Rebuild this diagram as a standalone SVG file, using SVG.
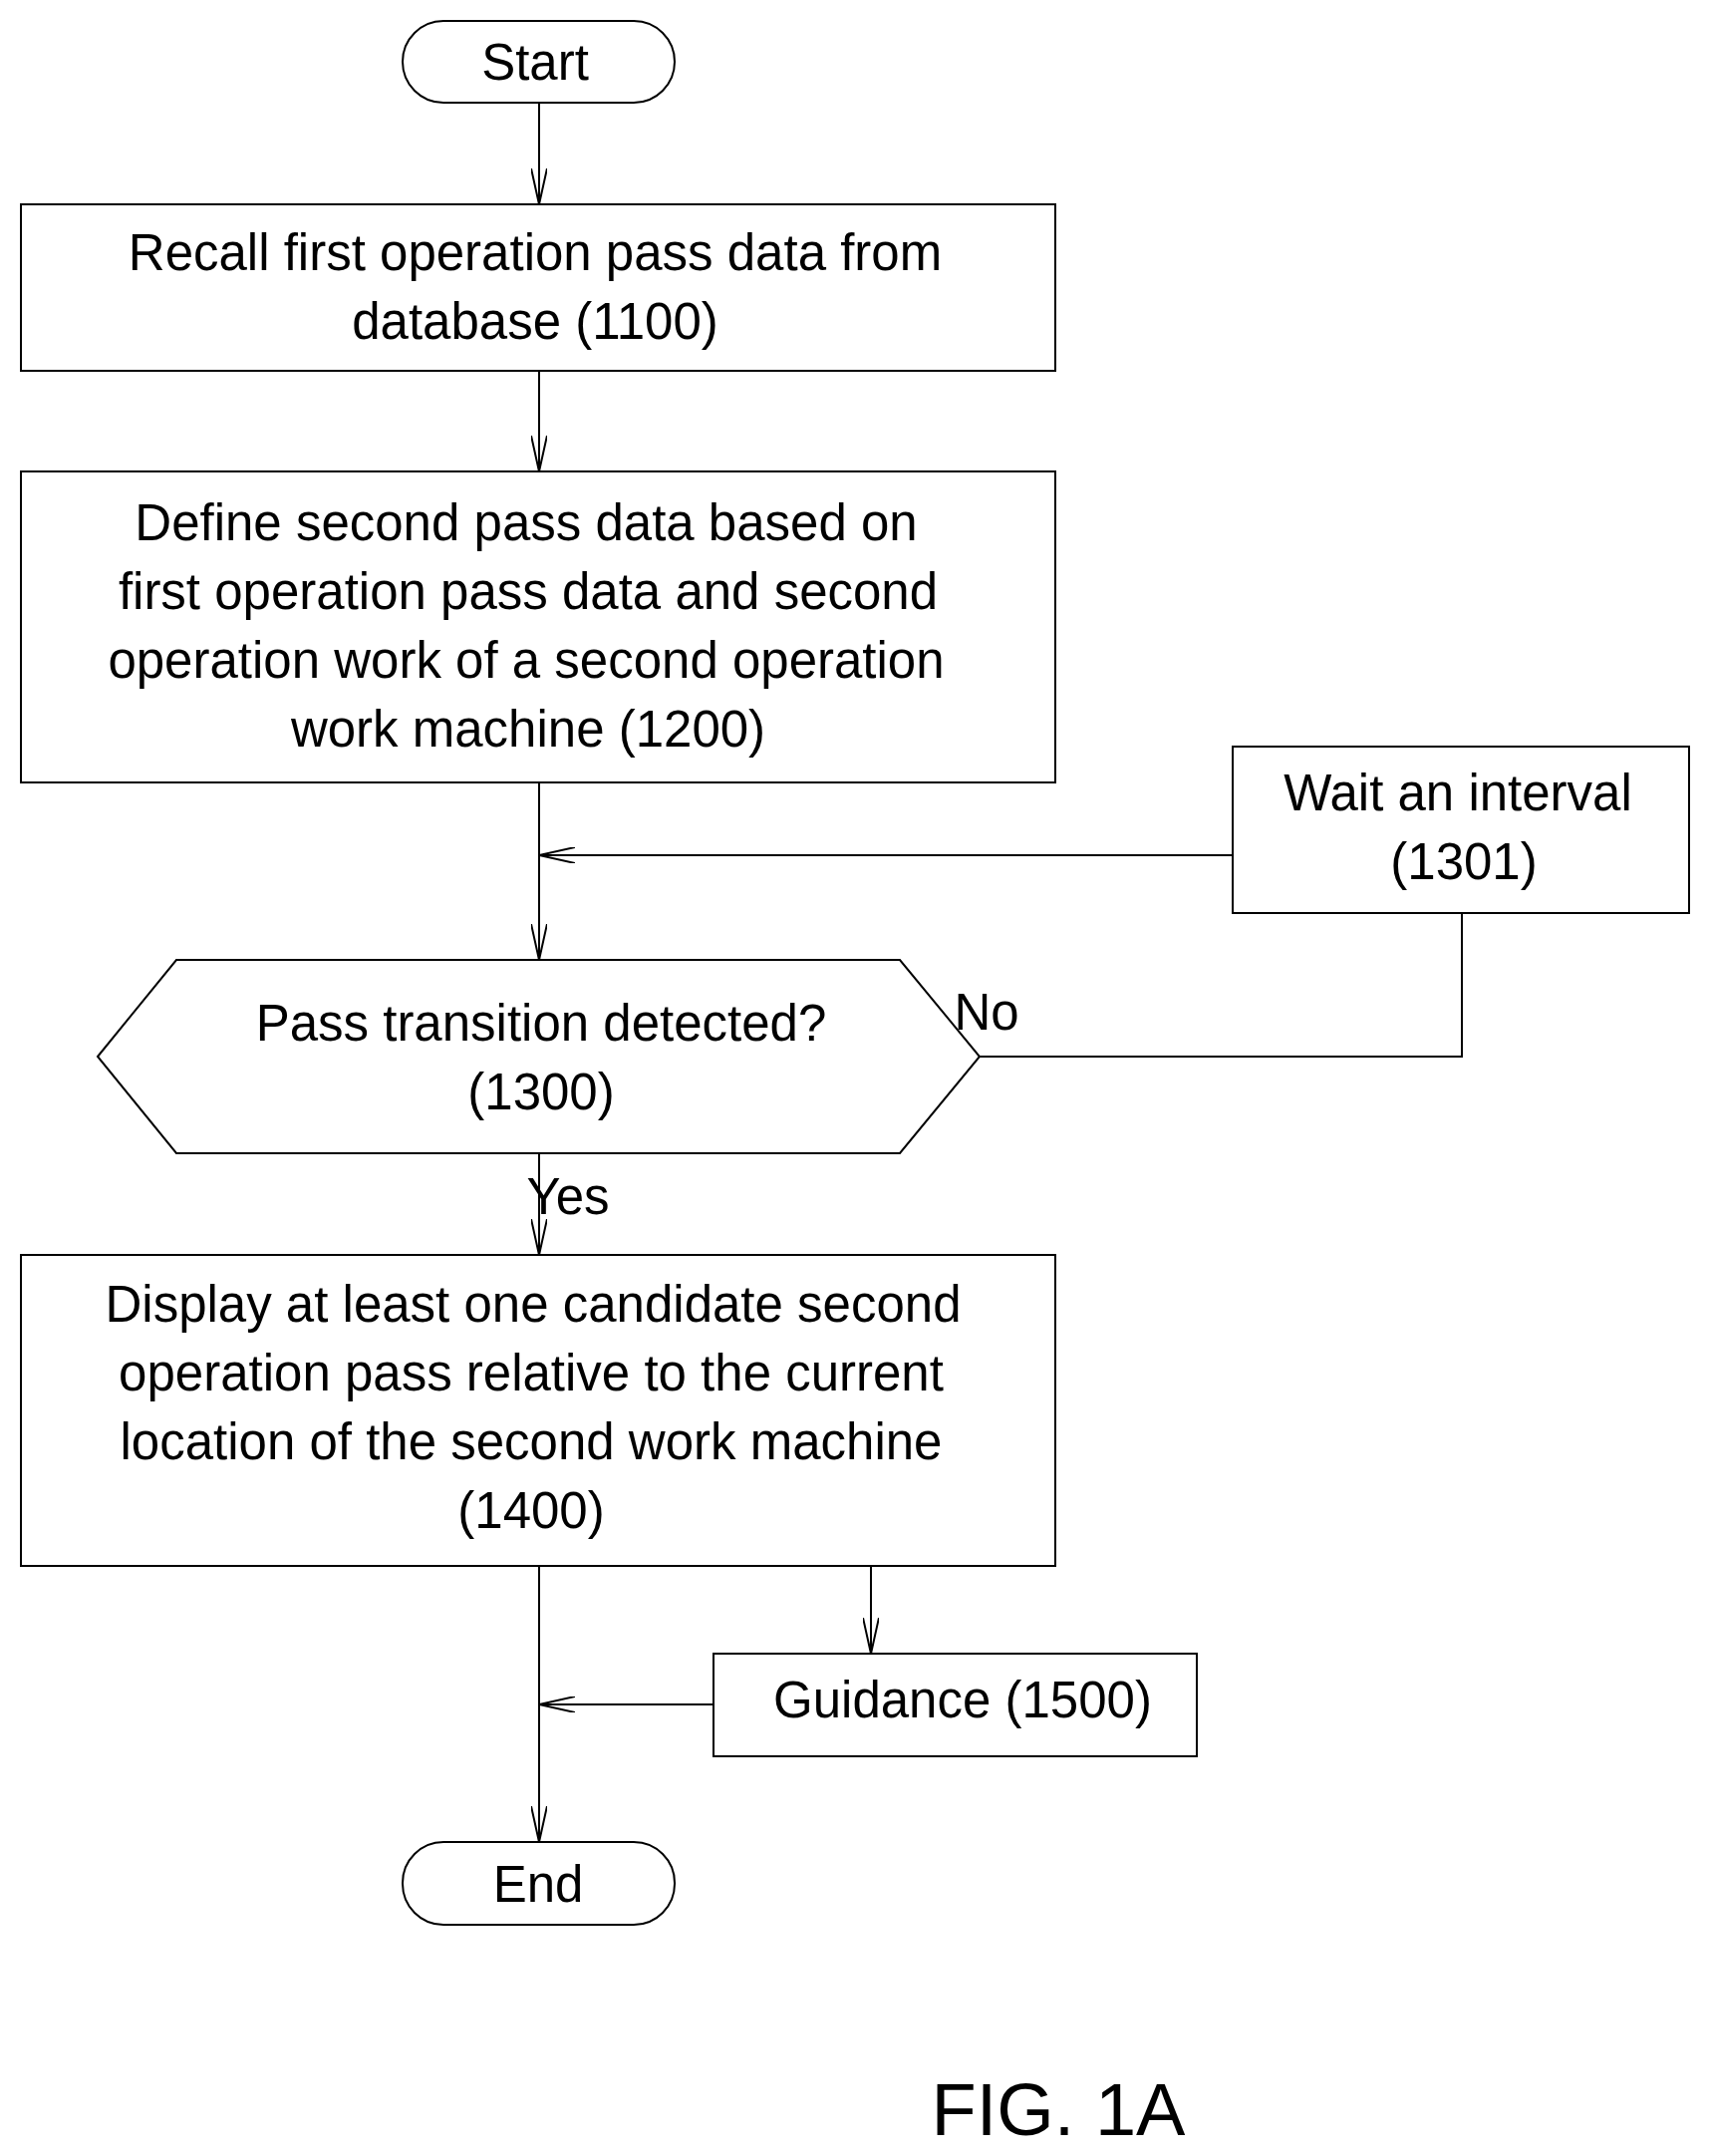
<svg xmlns="http://www.w3.org/2000/svg" width="1717" height="2163" viewBox="0 0 1717 2163">
<style>
.s{fill:#fff;stroke:#000;stroke-width:2}
.c{fill:none;stroke:#000;stroke-width:2}
text{font-family:"Liberation Sans",Arial,sans-serif;font-size:51px;fill:#000;text-anchor:middle}
</style>
<defs><marker id="a" viewBox="0 0 36 16" refX="36" refY="8" markerWidth="36" markerHeight="16" markerUnits="userSpaceOnUse" orient="auto"><path d="M0,0 L36,8 L0,16" fill="none" stroke="#000" stroke-width="2"/></marker></defs>
<rect width="1717" height="2163" fill="#fff"/>
<g id="connectors">
<path class="c" d="M541,103 V205" marker-end="url(#a)"/>
<path class="c" d="M541,372 V473" marker-end="url(#a)"/>
<path class="c" d="M541,785 V963" marker-end="url(#a)"/>
<path class="c" d="M1237,858 H541" marker-end="url(#a)"/>
<path class="c" d="M983,1060 H1467 V916"/>
<path class="c" d="M541,1157 V1259" marker-end="url(#a)"/>
<path class="c" d="M874,1571 V1659" marker-end="url(#a)"/>
<path class="c" d="M716,1710 H541" marker-end="url(#a)"/>
<path class="c" d="M541,1571 V1848" marker-end="url(#a)"/>
<text x="990" y="1033" text-anchor="start">No</text>
<text x="570" y="1218" text-anchor="start">Yes</text>
</g>
<g id="start"><rect class="s" x="404" y="21" width="273" height="82" rx="41"/><text x="537" y="80">Start</text></g>
<g id="n1100"><rect class="s" x="21" y="205" width="1038" height="167"/><text x="537" y="271">Recall first operation pass data from</text><text x="537" y="340">database (1100)</text></g>
<g id="n1200"><rect class="s" x="21" y="473" width="1038" height="312"/><text x="528" y="542">Define second pass data based on</text><text x="530" y="611">first operation pass data and second</text><text x="528" y="680">operation work of a second operation</text><text x="530" y="749">work machine (1200)</text></g>
<g id="n1301"><rect class="s" x="1237" y="749" width="458" height="167"/><text x="1463" y="813">Wait an interval</text><text x="1469" y="882">(1301)</text></g>
<g id="n1300"><polygon class="s" points="98,1060 177,963 903,963 983,1060 903,1157 177,1157"/><text x="543" y="1044">Pass transition detected?</text><text x="543" y="1113">(1300)</text></g>
<g id="n1400"><rect class="s" x="21" y="1259" width="1038" height="312"/><text x="535" y="1326">Display at least one candidate second</text><text x="533" y="1395">operation pass relative to the current</text><text x="533" y="1464">location of the second work machine</text><text x="533" y="1533">(1400)</text></g>
<g id="n1500"><rect class="s" x="716" y="1659" width="485" height="103"/><text x="966" y="1723">Guidance (1500)</text></g>
<g id="end"><rect class="s" x="404" y="1848" width="273" height="83" rx="41"/><text x="540" y="1908">End</text></g>
<text x="1062" y="2142" style="font-size:74px">FIG. 1A</text>
</svg>
